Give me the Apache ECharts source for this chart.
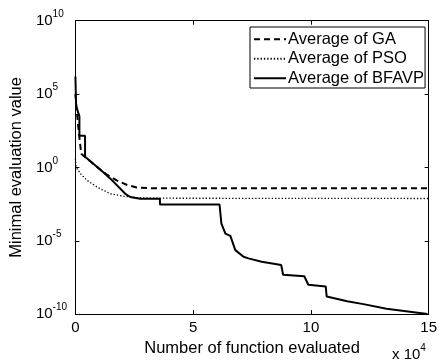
<!DOCTYPE html>
<html>
<head>
<meta charset="utf-8">
<script src="https://cdn.jsdelivr.net/npm/echarts@6/dist/echarts.min.js"></script>
<style>
html,body{margin:0;padding:0;background:#fff;}
#chart{width:440px;height:362px;}
</style>
</head>
<body>
<div id="chart"></div>
<script>
// x in units of 10^4 function evaluations, y as log10 of minimal evaluation value
var seriesNames = ['Average of GA', 'Average of PSO', 'Average of BFAVP'];
var xTicks = [0, 5, 10, 15];
var yTickExponents = [-10, -5, 0, 5, 10];

var gaData = [[0,5.0],[0.06,3.8],[0.12,2.8],[0.2,1.6],[0.25,0.93],[0.6,0.45],[1.0,-0.08],[1.3,-0.45],[1.77,-0.9],[2.2,-1.2],[2.6,-1.37],[3.2,-1.42],[15,-1.42]];
var psoData = [[0,0.6],[0.03,0.0],[0.25,-0.5],[0.51,-0.9],[0.93,-1.35],[1.49,-1.8],[2.05,-1.96],[2.6,-2.07],[3.5,-2.1],[15,-2.12]];
var bfavpData = [[0,6.2],[0.03,4.18],[0.17,3.48],[0.17,2.15],[0.41,2.15],[0.41,0.72],[0.8,0.2],[1.21,-0.36],[1.6,-0.95],[2.12,-1.8],[2.33,-2.02],[2.75,-2.14],[3.59,-2.14],[3.59,-2.53],[6.12,-2.53],[6.2,-3.83],[6.37,-4.51],[6.58,-4.67],[6.79,-5.64],[7.14,-6.09],[7.35,-6.2],[7.91,-6.43],[8.74,-6.66],[8.82,-7.32],[9.72,-7.42],[9.89,-8.0],[10.63,-8.12],[10.67,-8.8],[11.54,-9.13],[12.23,-9.32],[13.21,-9.63],[14.95,-9.99]];

var FONT = "'Liberation Sans', Arial, sans-serif";
var chart = echarts.init(document.getElementById('chart'), null, {renderer:'canvas'});

var tickCommon = {show:true, inside:true, length:4, lineStyle:{color:'#000', width:1}};
var lineCommon = {show:true, onZero:false, lineStyle:{color:'#000', width:1}};

var option = {
  backgroundColor:'#fff',
  animation:false,
  grid:{left:71, right:10.5, top:20.7, bottom:45.5, containLabel:false},
  legend:{
    show:true, orient:'vertical', left:250, top:27,
    data:seriesNames,
    backgroundColor:'#fff', borderColor:'#000', borderWidth:1,
    padding:[2.5,1,0,3], itemGap:0, itemWidth:32, itemHeight:14,
    itemStyle:{color:'rgba(0,0,0,0)', borderWidth:0, opacity:0},
    textStyle:{fontFamily:FONT, fontSize:16.5, color:'#000', lineHeight:19.5, padding:[0,0,0,-3]}
  },
  xAxis:[{
    type:'value', min:0, max:15, interval:5, position:'bottom',
    axisLine:lineCommon, axisTick:tickCommon, splitLine:{show:false},
    axisLabel:{fontFamily:FONT, fontSize:15, color:'#000', margin:6,
      formatter:function(v){return xTicks.indexOf(v)>=0 ? String(v) : '';}},
    name:'Number of function evaluated', nameLocation:'middle', nameGap:16,
    nameTextStyle:{fontFamily:FONT, fontSize:16.5, color:'#000'}
  },{
    type:'value', min:0, max:15, interval:5, position:'top',
    axisLine:lineCommon, axisTick:tickCommon, splitLine:{show:false}, axisLabel:{show:false}
  }],
  yAxis:[{
    type:'value', min:-10, max:10, interval:5, position:'left',
    axisLine:lineCommon, axisTick:tickCommon, splitLine:{show:false},
    axisLabel:{margin:39.5, align:'left',
      formatter:function(v){return yTickExponents.indexOf(v)>=0 ? '{b|10}{s|' + v + '}' : '';},
      rich:{
        b:{fontFamily:FONT, fontSize:15, color:'#000'},
        s:{fontFamily:FONT, fontSize:10, color:'#000', padding:[0,0,13,0]}
      }},
    name:'Minimal evaluation value', nameLocation:'middle', nameGap:44.5, nameRotate:90,
    nameTextStyle:{fontFamily:FONT, fontSize:16.5, color:'#000'}
  },{
    type:'value', min:-10, max:10, interval:5, position:'right',
    axisLine:lineCommon, axisTick:tickCommon, splitLine:{show:false}, axisLabel:{show:false}
  }],
  graphic:[{
    type:'text', left:392, top:343,
    style:{text:'x 10{s|4}', fontFamily:FONT, fontSize:15, fill:'#000',
      rich:{s:{fontFamily:FONT, fontSize:10, fill:'#000', padding:[0,0,13,0]}}}
  }],
  series:[{
    name:seriesNames[0], type:'line', data:gaData, xAxisIndex:0, yAxisIndex:0,
    symbol:'none', color:'#000',
    lineStyle:{color:'#000', width:2, type:[6,4]}
  },{
    name:seriesNames[1], type:'line', data:psoData, xAxisIndex:0, yAxisIndex:0,
    symbol:'none', color:'#000',
    lineStyle:{color:'#000', width:1.3, type:[1.3,2]}
  },{
    name:seriesNames[2], type:'line', data:bfavpData, xAxisIndex:0, yAxisIndex:0,
    symbol:'none', color:'#000',
    lineStyle:{color:'#000', width:2}
  }]
};
chart.setOption(option);
</script>
</body>
</html>
